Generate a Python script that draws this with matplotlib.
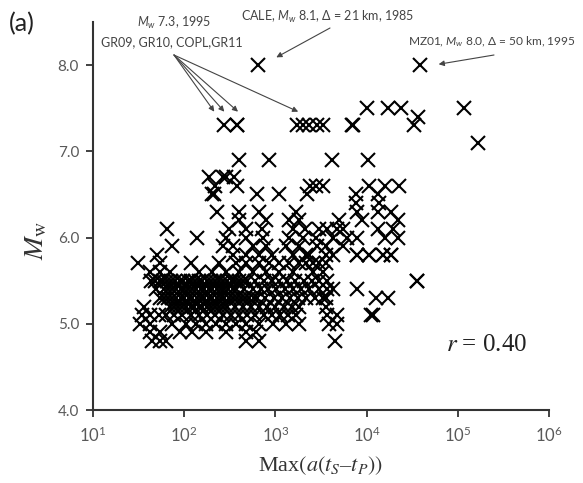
import matplotlib
matplotlib.use("Agg")
import matplotlib.pyplot as plt
import numpy as np

plt.rcParams['font.family'] = ['Lato', 'DejaVu Sans']
plt.rcParams['mathtext.fontset'] = 'custom'
plt.rcParams['mathtext.rm'] = 'Lato'
plt.rcParams['mathtext.it'] = 'Lato:italic'

# ---- data: magnitude Mw and log10 of Max(a(tS-tP)) for each event/station ----
mw_levels = [8.0, 7.5, 7.4, 7.3, 7.1, 6.9, 6.7, 6.6, 6.5, 6.4, 6.3, 6.2, 6.1, 6.0,
             5.9, 5.8, 5.7, 5.6, 5.5, 5.4, 5.3, 5.2, 5.1, 5.0, 4.9, 4.8]
log_amp_rows = [
    [2.81, 4.59],
    [4.00, 4.23, 4.38, 5.07],
    [4.56],
    [2.44, 2.58, 2.58, 3.24, 3.30, 3.37, 3.46, 3.52, 3.84, 3.85, 4.52],
    [5.22],
    [2.60, 2.93, 3.62, 4.02],
    [2.27, 2.42, 2.46, 2.55],
    [2.34, 2.58, 3.38, 3.45, 3.52, 4.03, 4.20, 4.36],
    [2.31, 2.33, 2.80, 3.04, 3.35, 3.88, 4.12],
    [3.88, 4.14],
    [2.36, 2.60, 2.82, 3.23, 3.89, 4.12, 4.27],
    [2.60, 2.90, 3.15, 3.26, 3.70, 3.95, 4.34],
    [1.81, 2.49, 2.68, 2.85, 3.19, 3.33, 3.48, 3.57, 3.67, 3.74, 4.12, 4.29],
    [2.14, 2.46, 2.68, 2.86, 3.15, 3.30, 3.45, 3.63, 3.78, 3.89, 4.20, 4.34],
    [1.87, 2.42, 2.53, 2.75, 2.90, 3.12, 3.26, 3.46, 3.56, 3.74],
    [1.70, 2.53, 2.68, 2.82, 2.96, 3.19, 3.34, 3.37, 3.56, 3.63, 3.90, 3.90,
     4.03, 4.03, 4.18, 4.18, 4.27, 4.27],
    [1.49, 1.73, 2.08, 2.38, 2.57, 2.68, 2.82, 2.93, 3.04, 3.15, 3.26, 3.34,
     3.41, 3.48, 3.56],
    [1.62, 1.73, 1.84, 2.16, 2.31, 2.46, 2.60, 2.75, 2.90, 3.04, 3.19, 3.41, 3.52],
    [1.64, 1.73, 1.81, 1.90, 1.99, 2.08, 2.16, 2.25, 2.34, 2.43, 2.52, 2.60,
     2.69, 2.78, 2.87, 2.96, 3.04, 3.13, 3.22, 3.31, 3.40, 3.48, 3.57, 4.55, 4.55,
     1.68, 1.77, 1.86, 1.95, 2.04, 2.12, 2.20, 2.29, 2.38, 2.47, 2.56, 2.65],
    [1.69, 1.78, 1.87, 1.96, 2.04, 2.13, 2.22, 2.31, 2.40, 2.48, 2.57, 2.66,
     2.75, 2.84, 2.92, 3.01, 3.10, 3.19, 3.28, 3.37, 3.48, 3.57, 3.63, 3.90,
     1.82, 1.91, 2.00, 2.09, 2.18, 2.27, 2.36, 2.44, 2.53],
    [1.73, 1.82, 1.91, 2.00, 2.09, 2.18, 2.27, 2.36, 2.44, 2.53, 2.62, 2.71,
     2.80, 2.89, 2.98, 3.07, 3.16, 3.25, 3.34, 3.43, 3.52, 3.56, 4.10, 4.23,
     1.78, 1.87, 1.96, 2.05, 2.14, 2.22, 2.31, 2.40, 2.49, 2.58, 2.67, 2.76],
    [1.56, 1.84, 1.93, 2.02, 2.11, 2.20, 2.29, 2.38, 2.47, 2.56, 2.64, 2.73,
     2.82, 2.91, 3.00, 3.09, 3.18, 3.26, 3.56,
     1.89, 1.98, 2.07, 2.16, 2.25, 2.34, 2.43],
    [1.54, 1.63, 1.72, 1.80, 1.89, 1.98, 2.07, 2.16, 2.25, 2.34, 2.42, 2.51,
     2.60, 2.69, 2.78, 2.87, 2.96, 3.05, 3.14, 3.23, 3.57, 3.67, 4.05, 4.07],
    [1.51, 1.62, 1.87, 2.02, 2.13, 2.24, 2.35, 2.46, 2.57, 2.68, 2.82, 2.97,
     3.12, 3.26, 3.59, 3.68],
    [1.62, 1.73, 1.95, 2.09, 2.24, 2.46, 2.68, 2.79],
    [1.65, 1.73, 1.80, 2.68, 2.82, 3.65],
]
r_value = 0.40

xticks = [1e1, 1e2, 1e3, 1e4, 1e5, 1e6]
yticks = [4.0, 5.0, 6.0, 7.0, 8.0]

# ---- build arrays ----
amp = np.concatenate([10 ** np.array(row) for row in log_amp_rows])
mw = np.concatenate([[m] * len(row) for m, row in zip(mw_levels, log_amp_rows)])

W, H = 583, 483
fig = plt.figure(figsize=(W / 100, H / 100), dpi=100)
ax = fig.add_axes([93 / W, 1 - 410 / H, (549 - 93) / W, (410 - 22) / H])

ax.plot(amp, mw, ls='none', marker='x', ms=10, mew=1.5, color='black')

ax.set_xscale('log')
ax.set_xlim(1e1, 1e6)
ax.set_ylim(4.0, 8.5)
ax.set_xticks(xticks)
ax.set_yticks(yticks)
ax.yaxis.set_major_formatter(matplotlib.ticker.FormatStrFormatter('%.1f'))
ax.minorticks_off()

for s in ['top', 'right']:
    ax.spines[s].set_visible(False)
for s in ['left', 'bottom']:
    ax.spines[s].set_linewidth(1.5)
    ax.spines[s].set_color('#333333')
ax.tick_params(direction='out', length=5, width=1.3, color='#333333',
               labelsize=11, labelcolor='#595959', pad=5)
ax.tick_params(axis='x', labelsize=12, pad=6)

def fx(px):
    return px / W

def fy(py):
    return 1 - py / H

# axis labels
fig.text(fx(36), fy(240), r'$M_\mathrm{w}$', rotation=90, fontsize=20,
         math_fontfamily='stix', ha='center', va='center', color='#333333')
fig.text(fx(321), fy(466), r'Max$($' + r'$a(t_S$' + '–' + r'$t_P))$',
         fontsize=16, family='Liberation Serif', math_fontfamily='stix',
         ha='center', va='center', color='#333333')

# panel label
fig.text(fx(22), fy(24), '(a)', fontsize=18, ha='center', va='center', color='#222222')

# r value
fig.text(fx(487), fy(345), r'$r$ = ' + f'{r_value:.2f}',
         fontsize=18, family='Liberation Serif', math_fontfamily='stix',
         ha='center', va='center', color='#222222')

# annotations
txt_kw = dict(fontsize=9, color='#444444', va='center')
fig.text(fx(174), fy(23), r'$M_w$ 7.3, 1995', ha='center', **txt_kw)
fig.text(fx(172), fy(42), 'GR09, GR10, COPL,GR11', ha='center', **txt_kw)
fig.text(fx(328), fy(17), r'CALE, $M_w$ 8.1, Δ = 21 km, 1985', ha='center', **txt_kw)
fig.text(fx(408), fy(42), r'MZ01, $M_w$ 8.0, Δ = 50 km, 1995', ha='left',
         fontsize=8.6, color='#444444', va='center')

arrow_kw = dict(arrowstyle='-|>', color='#444444', lw=0.8, mutation_scale=8,
                shrinkA=0, shrinkB=0)
for tip in [2.33, 2.44, 2.59, 3.25]:
    ax.annotate('', xy=(10 ** tip, 7.46), xycoords='data',
                xytext=(fx(174), fy(55)), textcoords='figure fraction',
                arrowprops=arrow_kw)
ax.annotate('', xy=(10 ** 3.01, 8.09), xycoords='data',
            xytext=(fx(330), fy(28)), textcoords='figure fraction',
            arrowprops=arrow_kw)
ax.annotate('', xy=(10 ** 4.79, 8.01), xycoords='data',
            xytext=(fx(494), fy(55)), textcoords='figure fraction',
            arrowprops=arrow_kw)

fig.savefig('out.png', dpi=100)
